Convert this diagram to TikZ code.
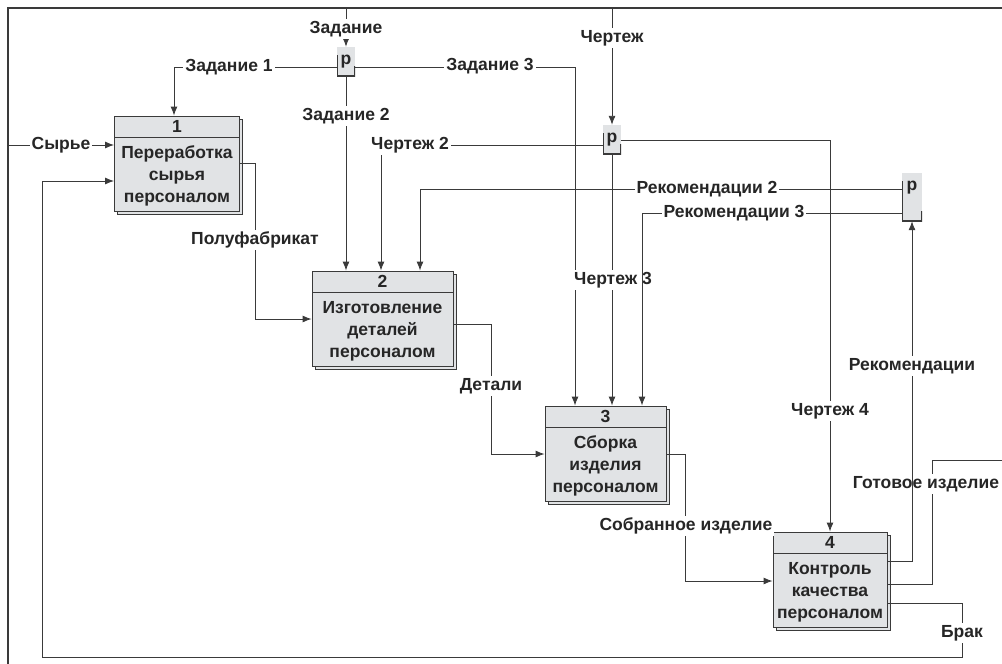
\documentclass[tikz,border=0pt]{standalone}
\usepackage{fontspec}
\setmainfont{Liberation Sans}
\usetikzlibrary{arrows.meta,shadows}
\definecolor{boxgray}{HTML}{E1E3E5}
\definecolor{linegray}{HTML}{3A3A3A}

\begin{document}
\begin{tikzpicture}[x=1pt,y=-1pt,
            every node/.style={font=\bfseries\fontsize{17.5}{22}\selectfont, text=black!85},
            func/.style={draw=linegray, fill=boxgray, line width=0.9pt, minimum height=95pt,
                align=center, inner sep=0pt,
                copy shadow={shadow xshift=3pt, shadow yshift=-3pt},
                path picture={\draw[linegray, line width=0.9pt]
                    ([yshift=-21pt]path picture bounding box.north west) --
                    ([yshift=-21pt]path picture bounding box.north east);}},
            junct/.style={fill=boxgray, minimum width=18pt, inner sep=0pt,
                path picture={\draw[linegray, line width=1.4pt]
                    ([yshift=-8pt]path picture bounding box.north west) --
                    (path picture bounding box.south west) --
                    (path picture bounding box.south east) --
                    ([yshift=10pt]path picture bounding box.south east);}},
            flow/.style={draw=linegray, line width=0.9pt, -{Latex[length=9pt,width=7pt]}},
            line/.style={draw=linegray, line width=0.9pt},
            lbl/.style={fill=white, inner sep=2pt}
            ]
            \useasboundingbox (0,0) rectangle (1002,664);
            \draw[linegray, line width=1.3pt] (8,664) -- (8,8) -- (1002,8);

            % activities
            \node[func, minimum width=125pt] (a1) at (177,163.5) {1\\[4pt]Переработка\\сырья\\персоналом};
            \node[func, minimum width=141pt] (a2) at (382.5,318.5) {2\\[4pt]Изготовление\\деталей\\персоналом};
            \node[func, minimum width=121pt] (a3) at (605.5,453.5) {3\\[4pt]Сборка\\изделия\\персоналом};
            \node[func, minimum width=114pt] (a4) at (830,579.5) {4\\[4pt]Контроль\\качества\\персоналом};

            % junctions
            \node[junct, minimum height=29pt] (j1) at (346,61.5) {p};
            \node[junct, minimum height=29pt] (j2) at (612,139.5) {p};
            \node[junct, minimum width=20pt, minimum height=48pt, text depth=22pt] (j3) at (912,197) {p};

            \coordinate (src) at (8,145);
            \coordinate (out) at (1002,460);

            % arrows
            \draw[flow] (346,8) -- (j1.north);
            \draw[flow] (j1.west |- 0,67) -- (174,67) -- (174,0 |- a1.north);
            \draw[flow] (j1.east |- 0,67) -- (575,67) -- (575,0 |- a3.north);
            \draw[flow] (j1.south) -- (j1.south |- a2.north);
            \draw[flow] (612,8) -- (j2.north);
            \draw[flow] (j2.west |- 0,145) -- (381,145) -- (381,0 |- a2.north);
            \draw[flow] (j2.east |- 0,140) -- (830,140) -- (a4.north);
            \draw[flow] (j2.south) -- (j2.south |- a3.north);
            \draw[flow] (j3.west |- 0,189) -- (420,189) -- (420,0 |- a2.north);
            \draw[flow] (src) -- (a1.west |- src);
            \draw[flow] (a1.east |- 0,163) -- (255,163) -- (255,319) -- (a2.west |- 0,319);
            \draw[flow] (a2.east |- 0,324) -- (491,324) -- (491,454) -- (a3.west |- 0,454);
            \draw[flow] (a3.east |- 0,454) -- (685,454) -- (685,581) -- (a4.west |- 0,581);
            \draw[line] (a4.east |- 0,584) -- (932,584) -- (932,460) -- (out);
            \draw[flow] (a4.east |- 0,603) -- (962,603) -- (962,657) -- (42,657) -- (42,181) -- (a1.west |- 0,181);

            \node[lbl] (l-zad) at (346,29) {Задание};
            \node[lbl] (l-zad1) at (229,67) {Задание 1};
            \node[lbl] (l-zad2) at (346,116) {Задание 2};
            \node[lbl] (l-zad3) at (490,66) {Задание 3};
            \node[lbl] (l-cher) at (612,38) {Чертеж};
            \node[lbl] (l-cher2) at (410,145) {Чертеж 2};
            \node[lbl] (l-cher3) at (613,280) {Чертеж 3};
            \node[lbl] (l-cher4) at (830,411) {Чертеж 4};
            \node[lbl] (l-rek2) at (707,189) {Рекомендации 2};
            \node[lbl] (l-syr) at (61,145) {Сырье};
            \node[lbl] (l-pf) at (255,240) {Полуфабрикат};
            \node[lbl] (l-det) at (491,386) {Детали};
            \node[lbl] (l-sob) at (686,526) {Собранное изделие};
            \node[lbl] (l-got) at (926,484) {Готовое изделие};
            \node[lbl] (l-brak) at (962,633) {Брак};

            \draw[flow] (j3.west |- 0,213) -- (642,213) -- (642,0 |- a3.north);
            \node[lbl] (l-rek3) at (734,213) {Рекомендации 3};
            \draw[flow] (a4.east |- 0,561) -- (912,561) -- (j3.south);
            \node[lbl] (l-rek) at (912,366) {Рекомендации};
        \end{tikzpicture}
\end{document}
